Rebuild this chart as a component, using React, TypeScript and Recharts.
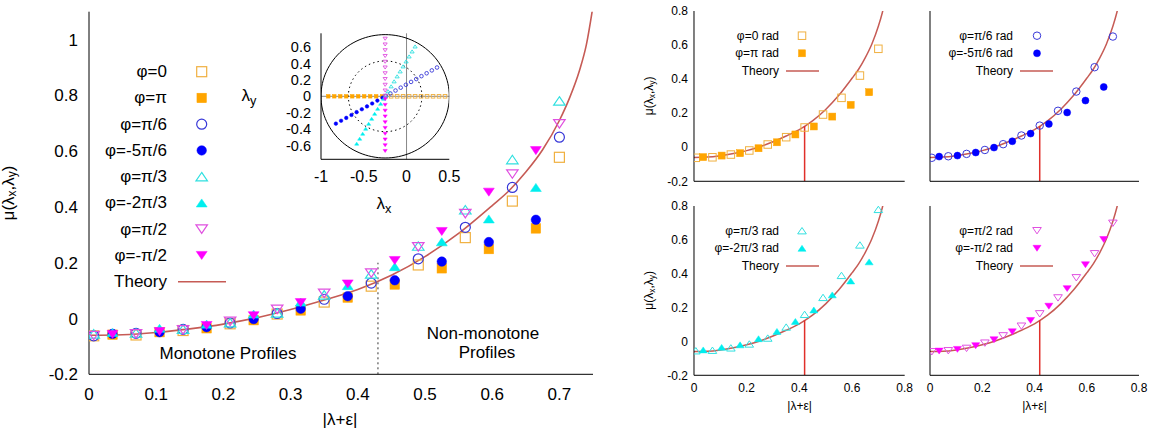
import React from 'react';
import { ComposedChart, Scatter, Line, XAxis, YAxis, ReferenceLine } from 'recharts';

const FONT = '"Liberation Sans", Arial, Helvetica, sans-serif';

// |λ+ε| positions of the two point families
const rOpen = [0.007, 0.07, 0.14, 0.21, 0.28, 0.35, 0.42, 0.49, 0.56, 0.63, 0.7];
const rFilled = [0.035, 0.105, 0.175, 0.245, 0.315, 0.385, 0.455, 0.525, 0.595, 0.665];

// μ(λx,λy) values
const muPhi0 = [-0.062, -0.059, -0.043, -0.019, 0.016, 0.059, 0.116, 0.192, 0.29, 0.421, 0.578];
const muPhiPi = [-0.058, -0.049, -0.035, -0.006, 0.029, 0.075, 0.122, 0.18, 0.249, 0.323];
const muPi6 = [-0.062, -0.053, -0.039, -0.016, 0.018, 0.069, 0.127, 0.214, 0.327, 0.47, 0.65];
const muM5Pi6 = [-0.055, -0.049, -0.031, -0.002, 0.035, 0.08, 0.137, 0.204, 0.274, 0.354];
const muPi3 = [-0.055, -0.052, -0.038, -0.015, 0.02, 0.085, 0.16, 0.26, 0.39, 0.57, 0.78];
const muM2Pi3 = [-0.05, -0.035, -0.02, 0.016, 0.059, 0.118, 0.186, 0.275, 0.357, 0.47];
const muPi2 = [-0.061, -0.055, -0.041, -0.01, 0.033, 0.09, 0.163, 0.257, 0.376, 0.518, 0.698];
const muMPi2 = [-0.057, -0.047, -0.025, 0.01, 0.057, 0.124, 0.208, 0.312, 0.453, 0.602];

// theory curve
const theoryR = [0, 0.05, 0.1, 0.15, 0.2, 0.25, 0.3, 0.35, 0.4, 0.45, 0.5, 0.55, 0.6, 0.625, 0.65, 0.675, 0.7, 0.715, 0.73, 0.74, 0.75];
const theoryMu = [-0.06, -0.058, -0.05, -0.037, -0.02, 0.003, 0.032, 0.066, 0.104, 0.155, 0.222, 0.305, 0.405, 0.458, 0.525, 0.605, 0.71, 0.79, 0.89, 0.98, 1.12];

// ticks
const mainXTicks = [0, 0.1, 0.2, 0.3, 0.4, 0.5, 0.6, 0.7];
const mainYTicks = [-0.2, 0, 0.2, 0.4, 0.6, 0.8, 1];
const insetXTicks = [-1, -0.5, 0, 0.5];
const insetYTicks = [-0.6, -0.4, -0.2, 0, 0.2, 0.4, 0.6];
const panelXTicks = [0, 0.2, 0.4, 0.6, 0.8];
const panelYTicks = [-0.2, 0, 0.2, 0.4, 0.6, 0.8];

// reference geometry
const epsilon = 0.25;
const outerRadius = 0.75;
const thresholdRadius = 0.43;
const mainThresholdTop = 0.2;
const panelThresholdR = 0.42;
const panelThresholdMu = 0.125;

type Kind = 'square' | 'circle' | 'tri' | 'dtri';
interface SeriesDef { label: string; panelLabel: string; kind: Kind; filled: boolean; color: string; r: number[]; mu: number[]; phi: number; }

const series: SeriesDef[] = [
  { label: 'φ=0', panelLabel: 'φ=0 rad', kind: 'square', filled: false, color: '#F0B040', r: rOpen, mu: muPhi0, phi: 0 },
  { label: 'φ=π', panelLabel: 'φ=π rad', kind: 'square', filled: true, color: '#FFA500', r: rFilled, mu: muPhiPi, phi: Math.PI },
  { label: 'φ=π/6', panelLabel: 'φ=π/6 rad', kind: 'circle', filled: false, color: '#3838D8', r: rOpen, mu: muPi6, phi: Math.PI / 6 },
  { label: 'φ=-5π/6', panelLabel: 'φ=-5π/6 rad', kind: 'circle', filled: true, color: '#0000FF', r: rFilled, mu: muM5Pi6, phi: -5 * Math.PI / 6 },
  { label: 'φ=π/3', panelLabel: 'φ=π/3 rad', kind: 'tri', filled: false, color: '#30E0E0', r: rOpen, mu: muPi3, phi: Math.PI / 3 },
  { label: 'φ=-2π/3', panelLabel: 'φ=-2π/3 rad', kind: 'tri', filled: true, color: '#00EEEE', r: rFilled, mu: muM2Pi3, phi: -2 * Math.PI / 3 },
  { label: 'φ=π/2', panelLabel: 'φ=π/2 rad', kind: 'dtri', filled: false, color: '#E050E0', r: rOpen, mu: muPi2, phi: Math.PI / 2 },
  { label: 'φ=-π/2', panelLabel: 'φ=-π/2 rad', kind: 'dtri', filled: true, color: '#FF00FF', r: rFilled, mu: muMPi2, phi: -Math.PI / 2 },
];

const THEORY = '#C65B55';
const THRESH = '#E0302A';

const theoryData = theoryR.map((x, i) => ({ x, y: theoryMu[i] }));
const seriesData = (s: SeriesDef) => s.r.map((x, i) => ({ x, y: s.mu[i] }));
const insetData = (s: SeriesDef) => s.r.map((r) => ({ x: -epsilon + r * Math.cos(s.phi), y: r * Math.sin(s.phi) }));
const circleData = (radius: number) => {
  const pts: { x: number; y: number }[] = [];
  for (let d = 0; d <= 360; d += 3) {
    const a = (d * Math.PI) / 180;
    pts.push({ x: -epsilon + radius * Math.cos(a), y: radius * Math.sin(a) });
  }
  return pts;
};

function drawMarker(kind: Kind, cx: number, cy: number, size: number, color: string, filled: boolean, sw: number) {
  const h = size / 2;
  const p = filled ? { fill: color, stroke: color, strokeWidth: 0.5 } : { fill: 'none', stroke: color, strokeWidth: sw };
  if (kind === 'square') return <rect x={cx - h} y={cy - h} width={size} height={size} {...p} />;
  if (kind === 'circle') return <circle cx={cx} cy={cy} r={h} {...p} />;
  const w = h * 1.15;
  const t = h * 0.85;
  if (kind === 'tri') return <path d={`M${cx} ${cy - t}L${cx + w} ${cy + t}L${cx - w} ${cy + t}Z`} {...p} />;
  return <path d={`M${cx} ${cy + t}L${cx + w} ${cy - t}L${cx - w} ${cy - t}Z`} {...p} />;
}

interface AxOpts {
  xDomain: [number, number]; yDomain: [number, number]; xTicks: number[]; yTicks: number[];
  tickLen: number; fontSize: number; yFontSize?: number; showX: boolean; showY: boolean; xMargin: number; yMargin: number; yWidth: number; xHeight: number;
}

function frameAxes(o: AxOpts) {
  const tickStyle = { fontSize: o.fontSize, fill: '#000', fontFamily: FONT };
  const yTickStyle = { fontSize: o.yFontSize ?? o.fontSize, fill: '#000', fontFamily: FONT };
  const line = { stroke: '#000', strokeWidth: 1 };
  return [
    <XAxis key="xb" xAxisId="b" type="number" dataKey="x" domain={o.xDomain} ticks={o.xTicks} allowDataOverflow interval={0}
      height={o.xHeight} tickLine={false} tickSize={0} tickMargin={o.xMargin} tick={o.showX ? tickStyle : false} axisLine={line} />,
    <XAxis key="xbm" xAxisId="bm" type="number" dataKey="x" domain={o.xDomain} ticks={o.xTicks} allowDataOverflow interval={0}
      orientation="bottom" mirror height={0} tick={false} tickSize={o.tickLen} tickLine={line} axisLine={false} />,
    <XAxis key="xt" xAxisId="t" type="number" dataKey="x" domain={o.xDomain} ticks={o.xTicks} allowDataOverflow interval={0}
      orientation="top" mirror height={0} tick={false} tickSize={o.tickLen} tickLine={line} axisLine={line} />,
    <YAxis key="yl" yAxisId="l" type="number" dataKey="y" domain={o.yDomain} ticks={o.yTicks} allowDataOverflow interval={0}
      width={o.yWidth} tickLine={false} tickSize={0} tickMargin={o.yMargin} tick={o.showY ? yTickStyle : false} axisLine={line} />,
    <YAxis key="ylm" yAxisId="lm" type="number" dataKey="y" domain={o.yDomain} ticks={o.yTicks} allowDataOverflow interval={0}
      orientation="left" mirror width={0} tick={false} tickSize={o.tickLen} tickLine={line} axisLine={false} />,
    <YAxis key="yr" yAxisId="r" type="number" dataKey="y" domain={o.yDomain} ticks={o.yTicks} allowDataOverflow interval={0}
      orientation="right" mirror width={0} tick={false} tickSize={o.tickLen} tickLine={line} axisLine={line} />,
  ];
}

function MainChart() {
  return (
    <div style={{ position: 'absolute', left: 0, top: 0 }}>
      <ComposedChart width={600} height={428} margin={{ top: 11.7, right: 7, bottom: 23.7, left: 29 }}>
        {frameAxes({ xDomain: [0, 0.75], yDomain: [-0.2, 1.1], xTicks: mainXTicks, yTicks: mainYTicks, tickLen: 6, fontSize: 17,
          showX: true, showY: true, xMargin: 14, yMargin: 11, yWidth: 60, xHeight: 30 })}
        <Line xAxisId="b" yAxisId="l" data={[{ x: thresholdRadius, y: -0.2 }, { x: thresholdRadius, y: mainThresholdTop }]} dataKey="y"
          type="linear" stroke="#333" strokeWidth={1} strokeDasharray="2 3" dot={false} activeDot={false} isAnimationActive={false} />
        {series.map((s) => (
          <Scatter key={s.label} xAxisId="b" yAxisId="l" data={seriesData(s)} isAnimationActive={false}
            shape={(p: any) => drawMarker(s.kind, p.cx, p.cy, s.filled ? 9.5 : 10, s.color, s.filled, 1.2)} />
        ))}
        <Line xAxisId="b" yAxisId="l" data={theoryData} dataKey="y" type="monotone" stroke={THEORY} strokeWidth={1.6}
          dot={false} activeDot={false} isAnimationActive={false} />
      </ComposedChart>
    </div>
  );
}

function InsetChart() {
  return (
    <div style={{ position: 'absolute', left: 240, top: 20 }}>
      <ComposedChart width={240} height={200} margin={{ top: 13.3, right: 30.7, bottom: 30.7, left: 41 }}>
        {frameAxes({ xDomain: [-1, 0.5], yDomain: [-0.766, 0.766], xTicks: insetXTicks, yTicks: insetYTicks, tickLen: 4, fontSize: 16,
          yFontSize: 14.5, showX: true, showY: true, xMargin: 11, yMargin: 10, yWidth: 40, xHeight: 30 })}
        <ReferenceLine xAxisId="b" yAxisId="l" x={0} stroke="#888" strokeWidth={1} />
        <ReferenceLine xAxisId="b" yAxisId="l" y={0} stroke="#888" strokeWidth={1} />
        <Line xAxisId="b" yAxisId="l" data={circleData(outerRadius)} dataKey="y" type="linear" stroke="#000" strokeWidth={1}
          dot={false} activeDot={false} isAnimationActive={false} />
        <Line xAxisId="b" yAxisId="l" data={circleData(thresholdRadius)} dataKey="y" type="linear" stroke="#000" strokeWidth={1}
          strokeDasharray="1.5 3" dot={false} activeDot={false} isAnimationActive={false} />
        {series.map((s) => (
          <Scatter key={s.label} xAxisId="b" yAxisId="l" data={insetData(s)} isAnimationActive={false}
            shape={(p: any) => drawMarker(s.kind, p.cx, p.cy, 3.6, s.color, s.filled, 0.9)} />
        ))}
      </ComposedChart>
    </div>
  );
}

interface PanelDef { left: number; top: number; right: number; bottom: number; a: number; b: number; showX: boolean; showY: boolean; legendX: number; markerX: number; lineX1: number; lineX2: number; }

const panels: PanelDef[] = [
  { left: 694.3, top: 10.7, right: 905, bottom: 181, a: 0, b: 1, showX: false, showY: true, legendX: 779, markerX: 802, lineX1: 786, lineX2: 819 },
  { left: 930, top: 10.7, right: 1139, bottom: 181, a: 2, b: 3, showX: false, showY: false, legendX: 1013, markerX: 1037, lineX1: 1020, lineX2: 1053 },
  { left: 694.3, top: 205.7, right: 905, bottom: 375, a: 4, b: 5, showX: true, showY: true, legendX: 779, markerX: 802, lineX1: 786, lineX2: 819 },
  { left: 930, top: 205.7, right: 1139, bottom: 375, a: 6, b: 7, showX: true, showY: false, legendX: 1013, markerX: 1037, lineX1: 1020, lineX2: 1053 },
];

function Panel({ d }: { d: PanelDef }) {
  const ml = 64, mt = 11, mr = 12, mb = 35;
  const w = d.right - d.left + ml + mr;
  const h = d.bottom - d.top + mt + mb;
  return (
    <div style={{ position: 'absolute', left: d.left - ml, top: d.top - mt }}>
      <ComposedChart width={w} height={h} margin={{ top: mt, right: mr, bottom: mb - 20, left: ml - 40 }}>
        {frameAxes({ xDomain: [0, 0.8], yDomain: [-0.2, 0.8], xTicks: panelXTicks, yTicks: panelYTicks, tickLen: 5, fontSize: 12,
          showX: d.showX, showY: d.showY, xMargin: 8, yMargin: 6, yWidth: 40, xHeight: 20 })}
        {[series[d.a], series[d.b]].map((s) => (
          <Scatter key={s.label} xAxisId="b" yAxisId="l" data={seriesData(s)} isAnimationActive={false}
            shape={(p: any) => drawMarker(s.kind, p.cx, p.cy, s.filled ? 7 : 7.5, s.color, s.filled, 1)} />
        ))}
        <Line xAxisId="b" yAxisId="l" data={theoryData} dataKey="y" type="monotone" stroke={THEORY} strokeWidth={1.5}
          dot={false} activeDot={false} isAnimationActive={false} />
        <Line xAxisId="b" yAxisId="l" data={[{ x: panelThresholdR, y: -0.2 }, { x: panelThresholdR, y: panelThresholdMu }]} dataKey="y"
          type="linear" stroke={THRESH} strokeWidth={1.5} dot={false} activeDot={false} isAnimationActive={false} />
      </ComposedChart>
    </div>
  );
}

function MuTitle({ x, y, size }: { x: number; y: number; size: number }) {
  const s = size * 0.7;
  const dy = size * 0.25;
  return (
    <text x={x} y={y} transform={`rotate(-90 ${x} ${y})`} textAnchor="middle" dominantBaseline="central" fontSize={size} fontFamily={FONT} fill="#000">
      μ(λ<tspan fontSize={s} dy={dy}>x</tspan><tspan dy={-dy}>,λ</tspan><tspan fontSize={s} dy={dy}>y</tspan><tspan dy={-dy}>)</tspan>
    </text>
  );
}

function LambdaSub({ x, y, size, sub }: { x: number; y: number; size: number; sub: string }) {
  return (
    <text x={x} y={y} textAnchor="middle" dominantBaseline="central" fontSize={size} fontFamily={FONT} fill="#000">
      λ<tspan fontSize={size * 0.75} dy={size * 0.3}>{sub}</tspan>
    </text>
  );
}

function Overlay() {
  const rowY = (i: number) => 71.7 + i * 26.25;
  return (
    <svg width={1150} height={428} style={{ position: 'absolute', left: 0, top: 0, pointerEvents: 'none' }}>
      {/* main legend */}
      {series.map((s, i) => (
        <g key={s.label}>
          <text x={167} y={rowY(i)} textAnchor="end" dominantBaseline="central" fontSize={17} fontFamily={FONT} fill="#000">{s.label}</text>
          {drawMarker(s.kind, 201.7, rowY(i), s.filled ? 9.5 : 10, s.color, s.filled, 1.2)}
        </g>
      ))}
      <text x={167} y={rowY(8)} textAnchor="end" dominantBaseline="central" fontSize={17} fontFamily={FONT} fill="#000">Theory</text>
      <line x1={178} x2={226} y1={rowY(8)} y2={rowY(8)} stroke={THEORY} strokeWidth={1.6} />
      {/* main annotations */}
      <text x={228} y={353} textAnchor="middle" dominantBaseline="central" fontSize={17} fontFamily={FONT} fill="#000">Monotone Profiles</text>
      <text x={483} y={333} textAnchor="middle" dominantBaseline="central" fontSize={17} fontFamily={FONT} fill="#000">Non-monotone</text>
      <text x={487} y={352} textAnchor="middle" dominantBaseline="central" fontSize={17} fontFamily={FONT} fill="#000">Profiles</text>
      <text x={340} y={419} textAnchor="middle" dominantBaseline="central" fontSize={17} fontFamily={FONT} fill="#000">|λ+ε|</text>
      <MuTitle x={8} y={193} size={17} />
      <LambdaSub x={249} y={95} size={17} sub="y" />
      <LambdaSub x={384} y={203} size={17} sub="x" />
      {/* panel legends and titles */}
      {panels.map((d, k) => {
        const ys = [d.top + 25, d.top + 42.6, d.top + 60.3];
        const pair = [series[d.a], series[d.b]];
        return (
          <g key={k}>
            {pair.map((s, i) => (
              <g key={s.label}>
                <text x={d.legendX} y={ys[i]} textAnchor="end" dominantBaseline="central" fontSize={12} fontFamily={FONT} fill="#000">{s.panelLabel}</text>
                {drawMarker(s.kind, d.markerX, ys[i], s.filled ? 7 : 7.5, s.color, s.filled, 1)}
              </g>
            ))}
            <text x={d.legendX} y={ys[2]} textAnchor="end" dominantBaseline="central" fontSize={12} fontFamily={FONT} fill="#000">Theory</text>
            <line x1={d.lineX1} x2={d.lineX2} y1={ys[2]} y2={ys[2]} stroke={THEORY} strokeWidth={1.5} />
            {d.showY && <MuTitle x={649} y={(d.top + d.bottom) / 2} size={12} />}
            {d.showX && (
              <text x={(d.left + d.right) / 2} y={406} textAnchor="middle" dominantBaseline="central" fontSize={12} fontFamily={FONT} fill="#000">|λ+ε|</text>
            )}
          </g>
        );
      })}
    </svg>
  );
}

export default function App() {
  return (
    <div style={{ position: 'absolute', left: 0, top: 0, width: 1150, height: 428, background: '#fff', fontFamily: FONT, overflow: 'hidden' }}>
      <MainChart />
      <InsetChart />
      {panels.map((d, k) => (
        <Panel key={k} d={d} />
      ))}
      <Overlay />
    </div>
  );
}
